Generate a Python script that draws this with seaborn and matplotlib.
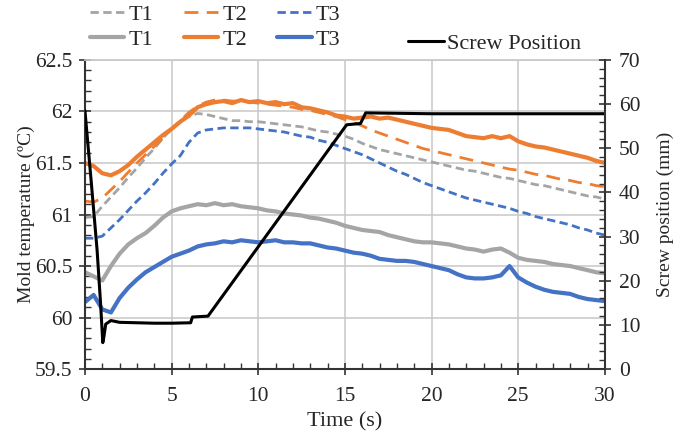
# Mold temperature (T1-T3) and screw position over one cycle
import numpy as np
import matplotlib
matplotlib.use("Agg")
import matplotlib.pyplot as plt
from matplotlib.ticker import MultipleLocator, FuncFormatter
import seaborn as sns

# time axis for the temperature traces (s), every 0.5 s
time_s = np.arange(0, 30.01, 0.5)

# dashed traces (T1, T2, T3)
t1_dash = [60.97, 60.98, 61.08, 61.17, 61.26, 61.36, 61.45, 61.55, 61.64, 61.74,
           61.83, 61.90, 61.95, 61.98, 61.97, 61.95, 61.93, 61.91, 61.91, 61.90,
           61.90, 61.89, 61.88, 61.87, 61.86, 61.85, 61.83, 61.81, 61.80, 61.78,
           61.76, 61.73, 61.69, 61.66, 61.63, 61.61, 61.59, 61.57, 61.55, 61.53,
           61.51, 61.49, 61.47, 61.45, 61.43, 61.42, 61.40, 61.38, 61.36, 61.35,
           61.33, 61.31, 61.29, 61.28, 61.26, 61.24, 61.22, 61.20, 61.18, 61.17,
           61.15]
t2_dash = [61.13, 61.12, 61.16, 61.24, 61.32, 61.41, 61.50, 61.58, 61.66, 61.74,
           61.83, 61.91, 61.99, 62.05, 62.09, 62.11, 62.11, 62.10, 62.10, 62.09,
           62.08, 62.07, 62.06, 62.05, 62.04, 62.02, 62.01, 61.99, 61.97, 61.95,
           61.92, 61.89, 61.86, 61.82, 61.79, 61.76, 61.73, 61.70, 61.67, 61.64,
           61.62, 61.60, 61.58, 61.56, 61.54, 61.52, 61.50, 61.48, 61.46, 61.44,
           61.43, 61.41, 61.39, 61.38, 61.36, 61.34, 61.33, 61.31, 61.30, 61.28,
           61.27]
t3_dash = [60.77, 60.77, 60.79, 60.87, 60.95, 61.04, 61.13, 61.21, 61.30, 61.40,
           61.49, 61.57, 61.70, 61.79, 61.82, 61.83, 61.84, 61.84, 61.84, 61.84,
           61.83, 61.82, 61.81, 61.80, 61.78, 61.76, 61.75, 61.72, 61.70, 61.67,
           61.64, 61.61, 61.58, 61.54, 61.50, 61.46, 61.42, 61.39, 61.35, 61.31,
           61.28, 61.25, 61.22, 61.19, 61.16, 61.14, 61.12, 61.10, 61.08, 61.06,
           61.03, 61.01, 60.98, 60.96, 60.94, 60.92, 60.90, 60.87, 60.85, 60.82,
           60.80]

# solid traces (T1, T2, T3)
t1_solid = [60.44, 60.40, 60.36, 60.50, 60.62, 60.71, 60.77, 60.82, 60.89, 60.97,
            61.03, 61.06, 61.08, 61.10, 61.09, 61.11, 61.09, 61.10, 61.08, 61.07,
            61.06, 61.04, 61.03, 61.01, 61.00, 60.99, 60.97, 60.96, 60.94, 60.92,
            60.89, 60.87, 60.85, 60.84, 60.83, 60.80, 60.78, 60.76, 60.74, 60.73,
            60.73, 60.72, 60.71, 60.69, 60.67, 60.66, 60.64, 60.66, 60.67, 60.63,
            60.58, 60.56, 60.55, 60.54, 60.52, 60.51, 60.50, 60.48, 60.46, 60.44,
            60.43]
t2_solid = [61.50, 61.47, 61.40, 61.38, 61.42, 61.48, 61.56, 61.63, 61.70, 61.77,
            61.83, 61.90, 61.96, 62.04, 62.07, 62.09, 62.10, 62.08, 62.11, 62.09,
            62.10, 62.08, 62.09, 62.07, 62.08, 62.04, 62.03, 62.01, 61.99, 61.96,
            61.95, 61.93, 61.94, 61.95, 61.93, 61.94, 61.92, 61.90, 61.88, 61.86,
            61.84, 61.83, 61.82, 61.79, 61.76, 61.75, 61.74, 61.76, 61.74, 61.76,
            61.71, 61.68, 61.66, 61.65, 61.63, 61.61, 61.59, 61.57, 61.55, 61.52,
            61.50]
t3_solid = [60.15, 60.22, 60.08, 60.05, 60.19, 60.29, 60.37, 60.44, 60.49, 60.54,
            60.59, 60.62, 60.65, 60.69, 60.71, 60.72, 60.74, 60.73, 60.75, 60.74,
            60.73, 60.74, 60.75, 60.73, 60.73, 60.72, 60.72, 60.70, 60.68, 60.67,
            60.65, 60.63, 60.62, 60.60, 60.57, 60.56, 60.55, 60.55, 60.54, 60.52,
            60.50, 60.48, 60.46, 60.42, 60.39, 60.38, 60.38, 60.39, 60.41, 60.50,
            60.39, 60.34, 60.30, 60.27, 60.25, 60.24, 60.23, 60.20, 60.18, 60.17,
            60.16]

# screw position (mm) on the right axis
screw_t = [0, 0.35, 0.7, 0.9, 1.03, 1.1, 1.2, 1.5, 2.0, 3.0, 4.0, 5.0, 6.1, 6.2,
           7.1, 15.1, 15.9, 16.2, 20, 25, 30]
screw_mm = [58.5, 43, 27, 15, 6, 7.5, 10.2, 11.0, 10.6, 10.5, 10.4, 10.4, 10.5, 11.8,
            12.0, 55.3, 55.6, 58.0, 57.8, 57.8, 57.8]

gray = "#A5A5A5"
orange = "#ED7D31"
blue = "#4472C4"

sns.set_theme(style="white")
plt.rcParams['font.family'] = ['Liberation Serif', 'DejaVu Serif']

fig = plt.figure(figsize=(6.85, 4.4), dpi=100)
ax = fig.add_axes([0.124, 0.161, 0.759, 0.703])

short = (0, (3, 1.6))
long_ = (0, (5, 3))

h_d1 = sns.lineplot(x=time_s, y=t1_dash, ax=ax, color=gray, lw=2, linestyle=short, legend=False).lines[-1]
h_d2 = sns.lineplot(x=time_s, y=t2_dash, ax=ax, color=orange, lw=2, linestyle=long_, legend=False).lines[-1]
h_d3 = sns.lineplot(x=time_s, y=t3_dash, ax=ax, color=blue, lw=2, linestyle=short, legend=False).lines[-1]
h_s1 = sns.lineplot(x=time_s, y=t1_solid, ax=ax, color=gray, lw=3, legend=False).lines[-1]
h_s3 = sns.lineplot(x=time_s, y=t3_solid, ax=ax, color=blue, lw=3, legend=False).lines[-1]
h_s2 = sns.lineplot(x=time_s, y=t2_solid, ax=ax, color=orange, lw=3, legend=False).lines[-1]

ax.set_xlim(0, 30)
ax.set_ylim(59.5, 62.5)
ax.xaxis.set_major_locator(MultipleLocator(5))
ax.xaxis.set_minor_locator(MultipleLocator(1))
ax.yaxis.set_major_locator(MultipleLocator(0.5))
ax.yaxis.set_minor_locator(MultipleLocator(0.1))
ax.yaxis.set_major_formatter(FuncFormatter(lambda v, p: f"{v:g}"))
ax.grid(True, which='major', color='#C8C8C8', lw=1.1)
ax.set_axisbelow(True)
ax.set_xlabel("Time (s)", fontsize=16, labelpad=4)
ax.set_ylabel("Mold temperature (ºC)", fontsize=14, labelpad=0)
ax.tick_params(which='major', direction='inout', length=8, width=1.2, labelsize=15.5,
               color='#333333', pad=5)
ax.tick_params(axis='x', which='major', pad=9)
ax.tick_params(which='minor', direction='in', length=4, width=1, color='#333333')
ax.tick_params(axis='both', which='both', bottom=True, left=True)
for s in ['left', 'bottom']:
    ax.spines[s].set_color('#333333')
    ax.spines[s].set_linewidth(1.5)
ax.spines['top'].set_color('#C8C8C8')
ax.spines['right'].set_visible(False)

ax2 = ax.twinx()
h_sc = sns.lineplot(x=screw_t, y=screw_mm, ax=ax2, color='black', lw=2.2, sort=False, legend=False).lines[-1]
ax2.set_ylim(0, 70)
ax2.yaxis.set_major_locator(MultipleLocator(10))
ax2.yaxis.set_minor_locator(MultipleLocator(2))
ax2.set_ylabel("Screw position (mm)", fontsize=14, labelpad=12)
ax2.tick_params(which='major', direction='inout', length=8, width=1.2, labelsize=15.5,
                color='#333333', right=True, pad=6)
ax2.tick_params(which='minor', direction='in', length=4, width=1, color='#333333', right=True)
ax2.spines['right'].set_color('#333333')
ax2.spines['right'].set_linewidth(1.5)
for s in ['left', 'bottom', 'top']:
    ax2.spines[s].set_visible(False)
ax2.grid(False)

# legend above the plot: dashed row, solid row, then screw position
fig.legend([h_d1, h_s1, h_d2, h_s2, h_d3, h_s3],
           ["T1", "T1", "T2", "T2", "T3", "T3"],
           ncol=3, loc='upper left', bbox_to_anchor=(0.115, 1.015),
           frameon=False, fontsize=16, handlelength=1.55, handletextpad=0.2,
           columnspacing=1.35, labelspacing=0.2, borderpad=0.0)
fig.legend([h_sc], ["Screw Position"], loc='upper left',
           bbox_to_anchor=(0.58, 0.95), frameon=False, fontsize=16,
           handlelength=1.6, handletextpad=0.15, borderpad=0.0)

fig.savefig("out.png", dpi=100)
